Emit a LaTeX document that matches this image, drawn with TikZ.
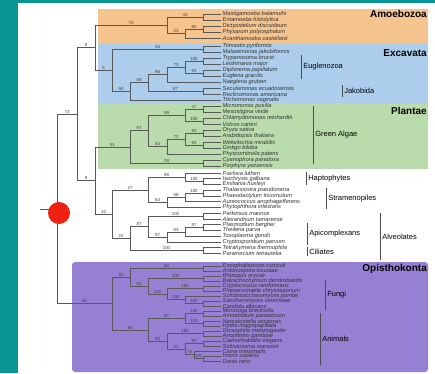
\documentclass[tikz,border=0pt]{standalone}
\usepackage{fontspec}
\setmainfont{Liberation Sans}
\definecolor{slideteal}{RGB}{7,150,148}
\definecolor{amoebo}{RGB}{246,196,142}
\definecolor{excav}{RGB}{172,206,236}
\definecolor{plant}{RGB}{186,220,172}
\definecolor{opisth}{RGB}{150,128,212}
\definecolor{dotred}{RGB}{240,32,18}
\newcommand{\grpbar}[4]{\draw[brk] (#1,#2) -- node[grp]{#4} (#1,#3);}

\begin{document}
\begin{tikzpicture}[x=1pt, y=-1pt,
  branch/.style={draw=black!65, line width=0.55pt},
  brk/.style={draw=black!70, line width=0.55pt},
  taxon/.style={anchor=west, inner sep=1.5pt, font=\fontsize{5.7}{6}\selectfont\itshape, text=black!80},
  bs/.style={pos=0.75, above, inner sep=0.5pt, font=\fontsize{4.4}{4.4}\selectfont, text=black!75},
  grp/.style={right, inner sep=2pt, font=\fontsize{7.5}{7.5}\selectfont},
  clade/.style={anchor=east, inner sep=0pt, font=\fontsize{10}{10}\selectfont\bfseries}]

% slide and coloured groups
\useasboundingbox (0,0) rectangle (435,373);
\fill[slideteal] (0,0) rectangle (435,373);
\fill[white] (18,3) rectangle (435,373);
\fill[amoebo] (98,9) rectangle (428,43);
\fill[excav] (98,43) rectangle (428,103);
\fill[plant] (98,103) rectangle (428,169);
\fill[opisth, rounded corners=3pt] (72,262) rectangle (428,372);
\node[clade] (amoebozoa) at (427,14) {Amoebozoa};
\node[clade] (excavata) at (427,53) {Excavata};
\node[clade] (plantae) at (427,111) {Plantae};
\node[clade] (opisthokonta) at (427,269) {Opisthokonta};

% leaves
\node[taxon] (am1) at (221,14) {Mastigamoeba balamuthi};
\node[taxon] (am2) at (221,20) {Entamoeba histolytica};
\node[taxon] (am3) at (221,26) {Dictyostelium discoideum};
\node[taxon] (am4) at (221,32) {Physarum polycephalum};
\node[taxon] (am5) at (221,38) {Acanthamoeba castellanii};
\node[taxon] (ex01) at (221,46) {Trimastix pyriformis};
\node[taxon] (ex02) at (221,52) {Malawimonas jakobiformis};
\node[taxon] (ex03) at (221,58) {Trypanosoma brucei};
\node[taxon] (ex04) at (221,64) {Leishmania major};
\node[taxon] (ex05) at (221,70) {Diplonema papillatum};
\node[taxon] (ex06) at (221,76) {Euglena gracilis};
\node[taxon] (ex07) at (221,82) {Naegleria gruberi};
\node[taxon] (ex08) at (221,88) {Seculamonas ecuadoriensis};
\node[taxon] (ex09) at (221,94) {Reclinomonas americana};
\node[taxon] (ex10) at (221,100) {Trichomonas vaginalis};
\node[taxon] (pl01) at (221,106) {Micromonas pusilla};
\node[taxon] (pl02) at (221,112) {Mesostigma viride};
\node[taxon] (pl03) at (221,118) {Chlamydomonas reinhardtii};
\node[taxon] (pl04) at (221,124) {Volvox carteri};
\node[taxon] (pl05) at (221,130) {Oryza sativa};
\node[taxon] (pl06) at (221,136) {Arabidopsis thaliana};
\node[taxon] (pl07) at (221,142) {Welwitschia mirabilis};
\node[taxon] (pl08) at (221,148) {Ginkgo biloba};
\node[taxon] (pl09) at (221,154) {Physcomitrella patens};
\node[taxon] (pl10) at (221,160) {Cyanophora paradoxa};
\node[taxon] (pl11) at (221,166) {Porphyra yezoensis};
\node[taxon] (hp1) at (221,173) {Pavlova lutheri};
\node[taxon] (hp2) at (221,178.75) {Isochrysis galbana};
\node[taxon] (hp3) at (221,184.5) {Emiliania huxleyi};
\node[taxon] (st1) at (221,190.25) {Thalassiosira pseudonana};
\node[taxon] (st2) at (221,196) {Phaeodactylum tricornutum};
\node[taxon] (st3) at (221,201.75) {Aureococcus anophagefferens};
\node[taxon] (st4) at (221,207.5) {Phytophthora infestans};
\node[taxon] (av1) at (221,213.25) {Perkinsus marinus};
\node[taxon] (av2) at (221,219) {Alexandrium tamarense};
\node[taxon] (av3) at (221,224.75) {Plasmodium berghei};
\node[taxon] (av4) at (221,230.5) {Theileria parva};
\node[taxon] (av5) at (221,236.25) {Toxoplasma gondii};
\node[taxon] (av6) at (221,242) {Cryptosporidium parvum};
\node[taxon] (av7) at (221,247.75) {Tetrahymena thermophila};
\node[taxon] (av8) at (221,253.5) {Paramecium tetraurelia};
\node[taxon] (ok01) at (221,266) {Encephalitozoon cuniculi};
\node[taxon] (ok02) at (221,271) {Antonospora locustae};
\node[taxon] (ok03) at (221,276) {Rhizopus oryzae};
\node[taxon] (ok04) at (221,281) {Batrachochytrium dendrobatidis};
\node[taxon] (ok05) at (221,286) {Cryptococcus neoformans};
\node[taxon] (ok06) at (221,291) {Phanerochaete chrysosporium};
\node[taxon] (ok07) at (221,296) {Schizosaccharomyces pombe};
\node[taxon] (ok08) at (221,301) {Saccharomyces cerevisiae};
\node[taxon] (ok09) at (221,306) {Candida albicans};
\node[taxon] (ok10) at (221,311) {Monosiga brevicollis};
\node[taxon] (ok11) at (221,316) {Amoebidium parasiticum};
\node[taxon] (ok12) at (221,321) {Nematostella vectensis};
\node[taxon] (ok13) at (221,326) {Hydra magnipapillata};
\node[taxon] (ok14) at (221,331) {Drosophila melanogaster};
\node[taxon] (ok15) at (221,336) {Anopheles gambiae};
\node[taxon] (ok16) at (221,341) {Caenorhabditis elegans};
\node[taxon] (ok17) at (221,346) {Schistosoma mansoni};
\node[taxon] (ok18) at (221,351) {Ciona intestinalis};
\node[taxon] (ok19) at (221,356) {Homo sapiens};
\node[taxon] (ok20) at (221,361) {Danio rerio};

% inner nodes
\coordinate (stub) at (40,208.9);
\coordinate (rt) at (57,208.9);
\coordinate (u1) at (77,114.1);
\coordinate (a0) at (95,47.7);
\coordinate (a1) at (167,25.25);
\coordinate (a2) at (203,17);
\coordinate (a3) at (185,33.5);
\coordinate (a4) at (203,29);
\coordinate (ex1) at (112,70.2);
\coordinate (e1) at (203,49);
\coordinate (ex3) at (130,91.4);
\coordinate (ex4) at (148,82.75);
\coordinate (eu4) at (167,74.5);
\coordinate (eu3) at (185,67);
\coordinate (eu1) at (203,61);
\coordinate (eu2) at (203,73);
\coordinate (jk1) at (203,91);
\coordinate (u2) at (95,180.6);
\coordinate (p10) at (130,146.9);
\coordinate (p8) at (148,130.75);
\coordinate (p3) at (185,115);
\coordinate (p1) at (203,109);
\coordinate (p2) at (203,121);
\coordinate (p7) at (167,146.5);
\coordinate (p6) at (185,139);
\coordinate (p4) at (203,133);
\coordinate (p5) at (203,145);
\coordinate (p9) at (203,163);
\coordinate (c2) at (112,214.2);
\coordinate (c1) at (148,189.9);
\coordinate (h5) at (185,177.3);
\coordinate (h4) at (203,181.6);
\coordinate (s7) at (167,202.5);
\coordinate (s6) at (185,197.4);
\coordinate (s5) at (203,193.1);
\coordinate (al15) at (130,238.6);
\coordinate (al13) at (148,226.5);
\coordinate (al9) at (203,216.1);
\coordinate (al12) at (167,237);
\coordinate (al11) at (185,231.9);
\coordinate (al10) at (203,227.6);
\coordinate (al14) at (203,250.6);
\coordinate (op) at (112,303.65);
\coordinate (o28) at (130,277.4);
\coordinate (o21) at (203,268.5);
\coordinate (o27) at (148,286.3);
\coordinate (o22) at (203,278.5);
\coordinate (o26) at (167,294.1);
\coordinate (o23) at (203,288.5);
\coordinate (o25) at (185,299.75);
\coordinate (o24) at (203,303.5);
\coordinate (o38) at (148,329.9);
\coordinate (o31) at (185,318.5);
\coordinate (o29) at (203,313.5);
\coordinate (o30) at (203,323.5);
\coordinate (o37) at (167,341.3);
\coordinate (o32) at (203,333.5);
\coordinate (o36) at (185,349.1);
\coordinate (o33) at (203,343.5);
\coordinate (o35) at (194,354.75);
\coordinate (o34) at (203,358.5);

% branches
\draw[branch] (stub) -- (rt);
\draw[branch] (rt) |- node[bs]{73} (u1);
\draw[branch] (rt) |- node[bs]{91} (op);
\draw[branch] (u1) |- node[bs]{8} (a0);
\draw[branch] (u1) |- node[bs]{8} (u2);
\draw[branch] (a0) |- node[bs]{70} (a1);
\draw[branch] (a0) |- node[bs]{5} (ex1);
\draw[branch] (a1) |- node[bs]{43} (a2);
\draw[branch] (a1) |- node[bs]{23} (a3);
\draw[branch] (a2) |- (am1);
\draw[branch] (a2) |- (am2);
\draw[branch] (a3) |- node[bs]{80} (a4);
\draw[branch] (a3) |- (am5);
\draw[branch] (a4) |- (am3);
\draw[branch] (a4) |- (am4);
\draw[branch] (ex1) |- node[bs]{45} (e1);
\draw[branch] (ex1) |- node[bs]{50} (ex3);
\draw[branch] (e1) |- (ex01);
\draw[branch] (e1) |- (ex02);
\draw[branch] (ex3) |- node[bs]{58} (ex4);
\draw[branch] (ex3) |- (ex10);
\draw[branch] (ex4) |- node[bs]{96} (eu4);
\draw[branch] (ex4) |- node[bs]{87} (jk1);
\draw[branch] (eu4) |- node[bs]{73} (eu3);
\draw[branch] (eu4) |- (ex07);
\draw[branch] (eu3) |- node[bs]{100} (eu1);
\draw[branch] (eu3) |- node[bs]{94} (eu2);
\draw[branch] (eu1) |- (ex03);
\draw[branch] (eu1) |- (ex04);
\draw[branch] (eu2) |- (ex05);
\draw[branch] (eu2) |- (ex06);
\draw[branch] (jk1) |- (ex08);
\draw[branch] (jk1) |- (ex09);
\draw[branch] (u2) |- node[bs]{51} (p10);
\draw[branch] (u2) |- node[bs]{10} (c2);
\draw[branch] (p10) |- node[bs]{97} (p8);
\draw[branch] (p10) |- node[bs]{28} (p9);
\draw[branch] (p8) |- node[bs]{59} (p3);
\draw[branch] (p8) |- node[bs]{84} (p7);
\draw[branch] (p3) |- node[bs]{47} (p1);
\draw[branch] (p3) |- node[bs]{100} (p2);
\draw[branch] (p1) |- (pl01);
\draw[branch] (p1) |- (pl02);
\draw[branch] (p2) |- (pl03);
\draw[branch] (p2) |- (pl04);
\draw[branch] (p7) |- node[bs]{72} (p6);
\draw[branch] (p7) |- (pl09);
\draw[branch] (p6) |- node[bs]{93} (p4);
\draw[branch] (p6) |- node[bs]{93} (p5);
\draw[branch] (p4) |- (pl05);
\draw[branch] (p4) |- (pl06);
\draw[branch] (p5) |- (pl07);
\draw[branch] (p5) |- (pl08);
\draw[branch] (p9) |- (pl10);
\draw[branch] (p9) |- (pl11);
\draw[branch] (c2) |- node[bs]{27} (c1);
\draw[branch] (c2) |- node[bs]{22} (al15);
\draw[branch] (c1) |- node[bs]{98} (h5);
\draw[branch] (c1) |- node[bs]{63} (s7);
\draw[branch] (h5) |- (hp1);
\draw[branch] (h5) |- node[bs]{100} (h4);
\draw[branch] (h4) |- (hp2);
\draw[branch] (h4) |- (hp3);
\draw[branch] (s7) |- node[bs]{58} (s6);
\draw[branch] (s7) |- (st4);
\draw[branch] (s6) |- node[bs]{100} (s5);
\draw[branch] (s6) |- (st3);
\draw[branch] (s5) |- (st1);
\draw[branch] (s5) |- (st2);
\draw[branch] (al15) |- node[bs]{87} (al13);
\draw[branch] (al15) |- node[bs]{100} (al14);
\draw[branch] (al13) |- node[bs]{100} (al9);
\draw[branch] (al13) |- node[bs]{97} (al12);
\draw[branch] (al9) |- (av1);
\draw[branch] (al9) |- (av2);
\draw[branch] (al12) |- node[bs]{53} (al11);
\draw[branch] (al12) |- (av6);
\draw[branch] (al11) |- node[bs]{97} (al10);
\draw[branch] (al11) |- (av5);
\draw[branch] (al10) |- (av3);
\draw[branch] (al10) |- (av4);
\draw[branch] (al14) |- (av7);
\draw[branch] (al14) |- (av8);
\draw[branch] (op) |- node[bs]{93} (o28);
\draw[branch] (op) |- node[bs]{60} (o38);
\draw[branch] (o28) |- node[bs]{62} (o21);
\draw[branch] (o28) |- node[bs]{53} (o27);
\draw[branch] (o21) |- (ok01);
\draw[branch] (o21) |- (ok02);
\draw[branch] (o27) |- node[bs]{100} (o22);
\draw[branch] (o27) |- node[bs]{100} (o26);
\draw[branch] (o22) |- (ok03);
\draw[branch] (o22) |- (ok04);
\draw[branch] (o26) |- node[bs]{100} (o23);
\draw[branch] (o26) |- node[bs]{100} (o25);
\draw[branch] (o23) |- (ok05);
\draw[branch] (o23) |- (ok06);
\draw[branch] (o25) |- (ok07);
\draw[branch] (o25) |- node[bs]{100} (o24);
\draw[branch] (o24) |- (ok08);
\draw[branch] (o24) |- (ok09);
\draw[branch] (o38) |- node[bs]{97} (o31);
\draw[branch] (o38) |- node[bs]{90} (o37);
\draw[branch] (o31) |- node[bs]{100} (o29);
\draw[branch] (o31) |- node[bs]{100} (o30);
\draw[branch] (o29) |- (ok10);
\draw[branch] (o29) |- (ok11);
\draw[branch] (o30) |- (ok12);
\draw[branch] (o30) |- (ok13);
\draw[branch] (o37) |- node[bs]{100} (o32);
\draw[branch] (o37) |- node[bs]{53} (o36);
\draw[branch] (o32) |- (ok14);
\draw[branch] (o32) |- (ok15);
\draw[branch] (o36) |- node[bs]{97} (o33);
\draw[branch] (o36) |- node[bs]{78} (o35);
\draw[branch] (o33) |- (ok16);
\draw[branch] (o33) |- (ok17);
\draw[branch] (o35) |- (ok18);
\draw[branch] (o35) |- node[bs]{100} (o34);
\draw[branch] (o34) |- (ok19);
\draw[branch] (o34) |- (ok20);

% group bars
\grpbar{301}{55}{79}{Euglenozoa}
\grpbar{342}{85}{97}{Jakobida}
\grpbar{313}{106}{164}{Green Algae}
\grpbar{306}{172}{185}{Haptophytes}
\grpbar{326}{188}{209}{Stramenopiles}
\grpbar{307}{223}{245}{Apicomplexans}
\grpbar{307}{247}{256}{Ciliates}
\grpbar{380}{213}{260}{Alveolates}
\grpbar{325}{280}{310}{Fungi}
\grpbar{320}{313}{365}{Animals}

% marker
\node[circle, fill=dotred, minimum size=22pt, inner sep=0pt] (mark) at (59,213) {};
\end{tikzpicture}
\end{document}
